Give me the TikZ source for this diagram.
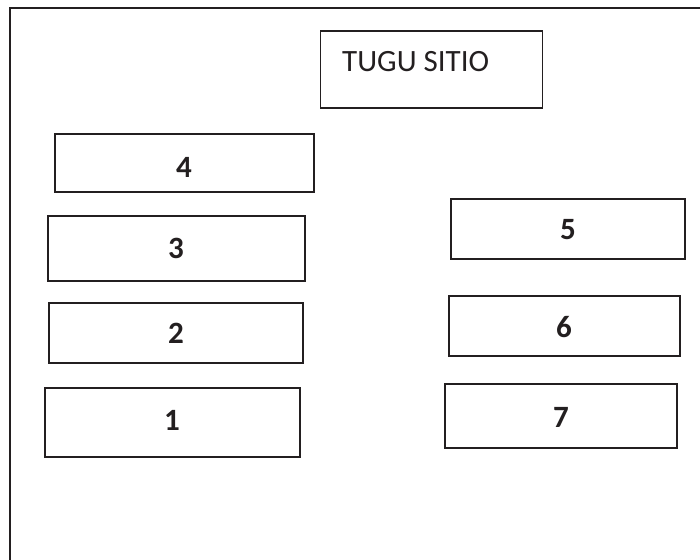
\documentclass[tikz,border=0pt]{standalone}
\usepackage{fontspec}
\setmainfont{Carlito}
\definecolor{ink}{HTML}{231F20}
\begin{document}
\begin{tikzpicture}[x=1pt,y=1pt,
  box/.style={draw=ink, line width=1.6pt, rectangle, inner sep=0pt},
  num/.style={text=ink, font=\fontsize{31}{36}\selectfont\bfseries, inner sep=0pt},
  title/.style={text=ink, font=\fontsize{31}{36}\selectfont, inner sep=0pt},
  frame/.style={draw=ink, line width=2pt}]
\useasboundingbox (0,0) rectangle (700,-559);
% outer frame (top and left sides only visible)
\coordinate (fbl) at (9.5,-560);
\coordinate (ftl) at (9.5,-8.5);
\coordinate (ftr) at (701,-8.5);
\draw[frame] (fbl) -- (ftl) -- (ftr);
% title box
\node[box, minimum width=222pt, minimum height=77pt] (tugu) at (431.5,-69.5) {};
\node[title, anchor=base west] (tugutext) at (342,-72) {TUGU SITIO};
% left column
\node[box, minimum width=259pt, minimum height=58pt] (b4) at (184.5,-163) {};
\node[num] (t4) at (184,-167) {4};
\node[box, minimum width=257pt, minimum height=65pt] (b3) at (176.5,-248.5) {};
\node[num] (t3) at (176,-248) {3};
\node[box, minimum width=254pt, minimum height=60pt] (b2) at (176,-333) {};
\node[num] (t2) at (176,-333) {2};
\node[box, minimum width=255pt, minimum height=69pt] (b1) at (172.5,-422.5) {};
\node[num] (t1) at (172,-420) {1};
% right column
\node[box, minimum width=234pt, minimum height=60pt] (b5) at (568,-229) {};
\node[num] (t5) at (568,-230) {5};
\node[box, minimum width=231pt, minimum height=60pt] (b6) at (564.5,-326) {};
\node[num] (t6) at (564,-327) {6};
\node[box, minimum width=232pt, minimum height=64pt] (b7) at (561,-416) {};
\node[num] (t7) at (561,-417) {7};
\end{tikzpicture}
\end{document}
